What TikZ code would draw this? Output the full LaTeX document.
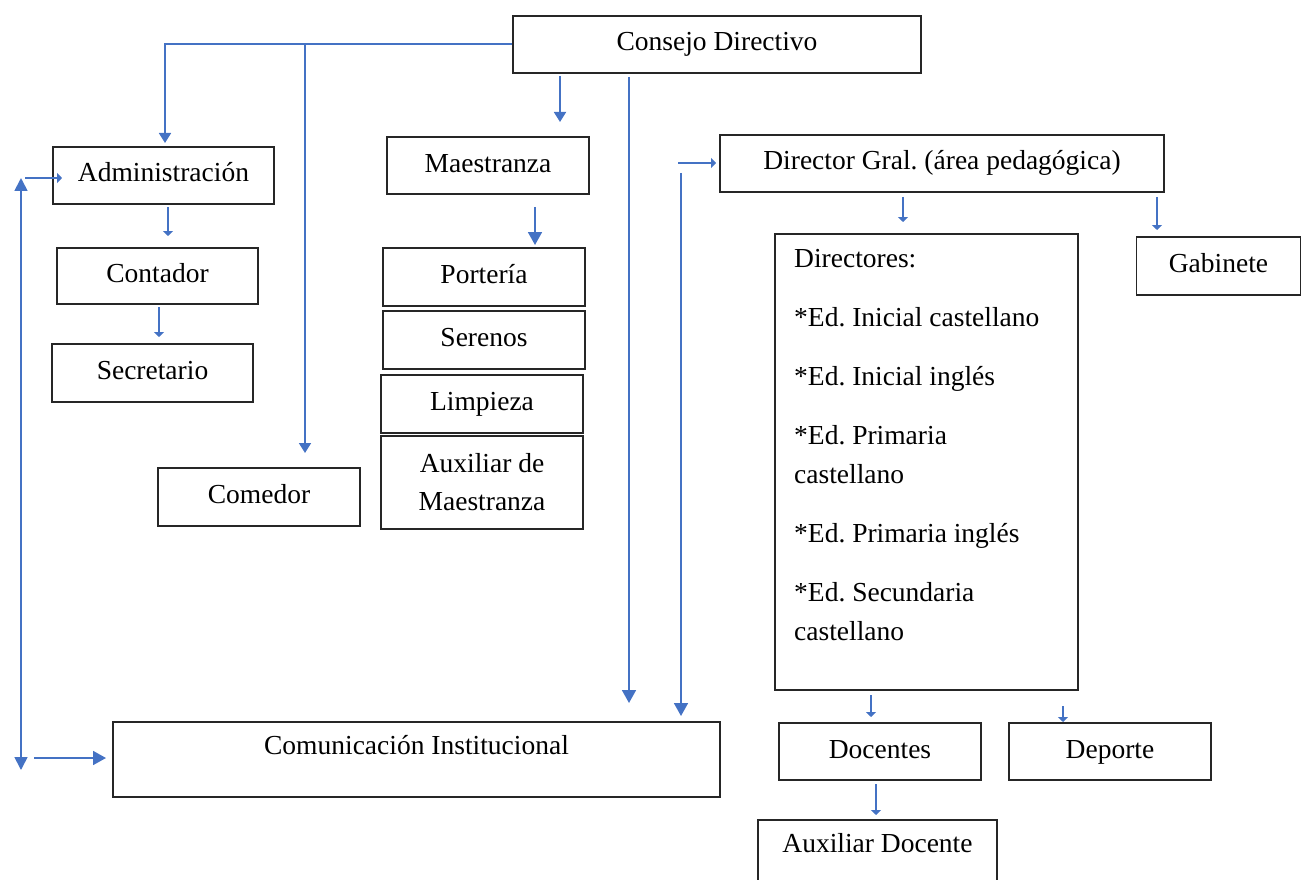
\documentclass[tikz,border=0pt]{standalone}
\usepackage{fontspec}
\setmainfont{Liberation Serif}
\usetikzlibrary{arrows.meta}
\definecolor{arrowblue}{HTML}{4472C4}
\definecolor{boxline}{HTML}{262626}
\frenchspacing
\begin{document}
\begin{tikzpicture}[x=1pt,y=-1pt,
  box/.style={draw=boxline, line width=1.6pt, fill=white, rectangle, inner sep=0pt,
    align=center, font=\fontsize{27.5}{38}\selectfont},
  one/.style={box, text height=19pt, text depth=6pt},
  conn/.style={draw=arrowblue, line width=1.8pt},
  tipS/.style={-{Triangle[width=10pt,length=5pt]}},
  tipM/.style={-{Triangle[width=12pt,length=10pt]}},
  tipL/.style={-{Triangle[width=14pt,length=13pt]}},
  tipLL/.style={{Triangle[width=13pt,length=13pt]}-{Triangle[width=13pt,length=13pt]}},
]
\useasboundingbox (0,0) rectangle (1302,880);
\clip (0,0) rectangle (1302,880);

% boxes
\node[one, minimum width=408pt, minimum height=57pt] (consejo) at (717,44.5) {Consejo Directivo};
\node[one, minimum width=221pt, minimum height=57pt] (admin) at (163.5,175.5) {Administración};
\node[one, minimum width=201pt, minimum height=56pt] (contador) at (157.5,276) {Contador};
\node[one, minimum width=201pt, minimum height=58pt] (secretario) at (152.5,373) {Secretario};
\node[one, minimum width=202pt, minimum height=58pt] (comedor) at (259,497) {Comedor};
\node[one, minimum width=202pt, minimum height=57pt] (maestranza) at (488,165.5) {Maestranza};
\node[one, minimum width=202pt, minimum height=58pt] (porteria) at (484,277) {Portería};
\node[one, minimum width=202pt, minimum height=58pt] (serenos) at (484,340) {Serenos};
\node[one, minimum width=202pt, minimum height=58pt] (limpieza) at (482,404) {Limpieza};
\node[box, minimum width=202pt, minimum height=93pt] (auxmaes) at (482,482.5) {Auxiliar de\\Maestranza};
\node[one, minimum width=444pt, minimum height=57pt] (director) at (942,163.5) {Director Gral. (área pedagógica)};
\node[box, minimum width=303pt, minimum height=456pt] (dirs) at (926.5,462) {};
\node[anchor=north west, inner sep=0pt, align=left, font=\fontsize{27.5}{39}\selectfont] (dirstext) at (794,249.5)
  {Directores:\\[20pt]*Ed. Inicial castellano\\[20pt]*Ed. Inicial inglés\\[20pt]*Ed. Primaria\\castellano\\[20pt]*Ed. Primaria inglés\\[20pt]*Ed. Secundaria\\castellano};
\node[one, minimum width=164pt, minimum height=58pt] (gabinete) at (1218.5,266) {Gabinete};
\node[box, text height=19pt, text depth=30pt, minimum width=607pt, minimum height=75pt] (comunic) at (416.5,759.5) {Comunicación Institucional};
\node[one, minimum width=202pt, minimum height=57pt] (docentes) at (880,751.5) {Docentes};
\node[one, minimum width=202pt, minimum height=57pt] (deporte) at (1110,751.5) {Deporte};
\node[box, anchor=north, text height=19pt, text depth=50pt, inner ysep=14pt, minimum width=239pt] (auxdoc) at (877.5,819) {Auxiliar Docente};

% free ends of connectors
\coordinate (cw) at ([yshift=0.5pt]consejo.west);
\coordinate (aTop) at (165,143);
\coordinate (jc) at (305,44);
\coordinate (comTop) at (305,453);
\coordinate (m1) at (560,76);
\coordinate (m2) at (560,122);
\coordinate (l1) at (629,77);
\coordinate (l2) at (629,703);
\coordinate (d1) at (678,163);
\coordinate (d2) at (716,163);
\coordinate (v1) at (681,173);
\coordinate (v2) at (681,716);
\coordinate (lt) at (21,178);
\coordinate (lb) at (21,770);
\coordinate (h1) at (25,178);
\coordinate (h2) at (62,178);
\coordinate (h3) at (34,758);
\coordinate (h4) at (106,758);
\coordinate (ac1) at (168,207);
\coordinate (ac2) at (168,236);
\coordinate (cs1) at (159,307);
\coordinate (cs2) at (159,337);
\coordinate (mp1) at (535,207);
\coordinate (mp2) at (535,245);
\coordinate (dd1) at (903,197);
\coordinate (dd2) at (903,222);
\coordinate (dg1) at (1157,197);
\coordinate (dg2) at (1157,230);
\coordinate (do1) at (871,695);
\coordinate (do2) at (871,717);
\coordinate (de1) at (1063,706);
\coordinate (de2) at (1063,722);
\coordinate (ad1) at (876,784);
\coordinate (ad2) at (876,815);

% connectors
\draw[conn, tipM] (cw) -| (aTop);
\draw[conn, tipM] (jc) -- (comTop);
\draw[conn, tipM] (m1) -- (m2);
\draw[conn, tipL] (l1) -- (l2);
\draw[conn, tipS] (d1) -- (d2);
\draw[conn, tipL] (v1) -- (v2);
\draw[conn, tipLL] (lt) -- (lb);
\draw[conn, tipS] (h1) -- (h2);
\draw[conn, tipL] (h3) -- (h4);
\draw[conn, tipS] (ac1) -- (ac2);
\draw[conn, tipS] (cs1) -- (cs2);
\draw[conn, tipL] (mp1) -- (mp2);
\draw[conn, tipS] (dd1) -- (dd2);
\draw[conn, tipS] (dg1) -- (dg2);
\draw[conn, tipS] (do1) -- (do2);
\draw[conn, tipS] (de1) -- (de2);
\draw[conn, tipS] (ad1) -- (ad2);
\end{tikzpicture}
\end{document}
